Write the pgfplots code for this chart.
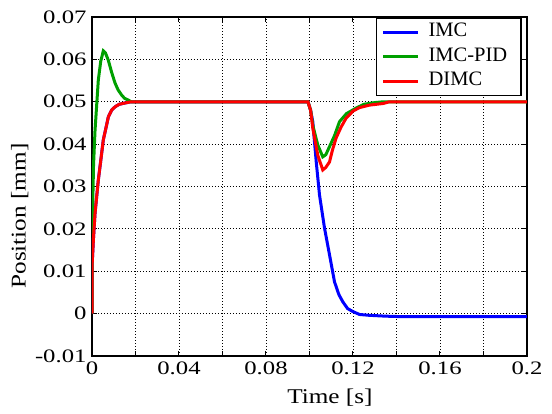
\documentclass[border=0pt]{standalone}
\usepackage{fontspec}
\setmainfont{Liberation Serif}
\newfontfamily\tickfont{Liberation Serif}[FakeStretch=1.3]
\newfontfamily\labfont{Liberation Serif}[FakeStretch=1.2]
\usepackage{pgfplots}
\pgfplotsset{compat=1.18}
\definecolor{mblue}{RGB}{0,0,255}
\definecolor{mgreen}{RGB}{0,160,0}
\definecolor{mred}{RGB}{255,0,0}
\begin{document}
\begin{tikzpicture}
\begin{axis}[
  scale only axis, width=435pt, height=339pt,
  xmin=0, xmax=0.2, ymin=-0.01, ymax=0.07,
  xtick={0,0.04,0.08,0.12,0.16,0.2},
  minor xtick={0.02,0.06,0.1,0.14,0.18},
  ytick={-0.01,0,0.01,0.02,0.03,0.04,0.05,0.06,0.07},
  scaled ticks=false,
  /pgf/number format/assume math mode=true,
  xticklabel style={/pgf/number format/fixed,/pgf/number format/precision=2},
  yticklabel style={/pgf/number format/fixed,/pgf/number format/precision=2},
  tick label style={font=\tickfont\fontsize{19}{19}\selectfont},
  xticklabel shift=2pt,
  yticklabel shift=2pt,
  grid=both,
  major grid style={black, line width=0.9pt, dash pattern=on 1pt off 2pt},
  minor grid style={black, line width=0.9pt, dash pattern=on 1pt off 2pt},
  tick align=inside,
  major tick length=5pt, minor tick length=5pt,
  every tick/.style={black, line width=1pt},
  axis line style={line width=1.6pt},
  xlabel={Time [s]}, ylabel={Position [mm]},
  xlabel style={font=\labfont\fontsize{21}{21}\selectfont, at={(axis description cs:0.547,-0.124)}, anchor=center},
  ylabel style={font=\labfont\fontsize{21}{21}\selectfont, at={(axis description cs:-0.166,0.413)}, anchor=center},
  legend cell align=left,
  legend image code/.code={\draw[#1] (0pt,0pt) -- (35pt,0pt);},
  legend style={at={(1,1)}, anchor=north east, xshift=-5pt, draw=black, line width=1.5pt,
    font=\fontsize{20.5}{20.5}\selectfont, inner xsep=5pt, inner ysep=2pt, row sep=0pt,
    nodes={inner xsep=9pt, inner ysep=3pt, text height=14pt, text depth=4.5pt}},
  clip=true,
]
\addplot[mblue, line width=3pt] coordinates {
(0,0) (0.0001,0.012) (0.0007,0.018) (0.0014,0.0237) (0.0029,0.0315) (0.0040,0.036)
(0.0052,0.041) (0.0065,0.044) (0.0075,0.0464) (0.009,0.048) (0.0106,0.0488)
(0.0125,0.0494) (0.0151,0.0497) (0.018,0.050) (0.0993,0.050)
(0.1005,0.048) (0.1015,0.0453) (0.1031,0.0358) (0.1046,0.0280) (0.1069,0.0202)
(0.1092,0.0139) (0.1115,0.0075) (0.1135,0.0045) (0.1153,0.0028) (0.1175,0.0012)
(0.1199,0.0005) (0.1230,-0.0002) (0.1275,-0.0004) (0.1350,-0.0006) (0.1413,-0.0007) (0.2,-0.0007)
};
\addlegendentry{IMC}
\addplot[mgreen, line width=3pt] coordinates {
(0,0) (0.0001,0.0197) (0.0007,0.035) (0.0014,0.0433) (0.0029,0.0551) (0.0040,0.0595)
(0.0052,0.0620) (0.0062,0.0615) (0.0075,0.0598) (0.009,0.0570) (0.0106,0.0544)
(0.0120,0.0528) (0.0136,0.0516) (0.0150,0.0508) (0.0167,0.0504) (0.0180,0.0500) (0.0993,0.050)
(0.1005,0.048) (0.1015,0.0445) (0.1038,0.0398) (0.1061,0.0370) (0.1075,0.0375) (0.1092,0.0394)
(0.1115,0.0420) (0.1138,0.0453) (0.1170,0.0472) (0.1214,0.0485) (0.1250,0.0494) (0.1300,0.0498)
(0.1340,0.0500) (0.2,0.050)
};
\addlegendentry{IMC-PID}
\addplot[mred, line width=3pt] coordinates {
(0,0) (0.0001,0.012) (0.0007,0.018) (0.0014,0.0237) (0.0029,0.0315) (0.0040,0.036)
(0.0052,0.041) (0.0065,0.044) (0.0075,0.0464) (0.009,0.048) (0.0106,0.0488)
(0.0125,0.0494) (0.0151,0.0497) (0.018,0.050) (0.0993,0.050)
(0.1005,0.048) (0.1015,0.0438) (0.1038,0.0374) (0.1061,0.0339) (0.1075,0.0345) (0.1092,0.0358)
(0.1105,0.0385) (0.1122,0.0414) (0.1145,0.0440) (0.1168,0.0461) (0.1200,0.0478) (0.1229,0.0486)
(0.1275,0.0492) (0.1340,0.0496) (0.1367,0.0500) (0.2,0.050)
};
\addlegendentry{DIMC}
\end{axis}
\pgfresetboundingbox
\path (current axis.south west) ++(-92pt,-58pt) rectangle ++(552pt,414pt);
\end{tikzpicture}
\end{document}
